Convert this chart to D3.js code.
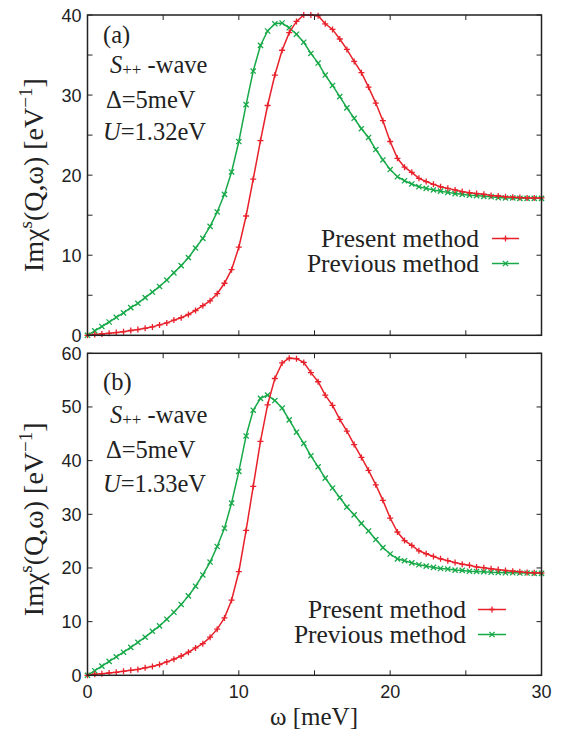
<!DOCTYPE html>
<html>
<head>
<meta charset="utf-8">
<script src="https://cdn.jsdelivr.net/npm/d3@7/dist/d3.min.js"></script>
<style>
  body { margin: 0; background: #fff; }
  svg { display: block; }
</style>
</head>
<body>
<div id="chart"></div>
<script>
// omega grid [meV]
const omega = [0, 0.48, 0.95, 1.43, 1.9, 2.38, 2.86, 3.33, 3.81, 4.29,
  4.76, 5.24, 5.71, 6.19, 6.67, 7.14, 7.62, 8.1, 8.57, 9.05,
  9.52, 10, 10.48, 10.95, 11.43, 11.9, 12.38, 12.86, 13.33, 13.81,
  14.29, 14.76, 15.24, 15.71, 16.19, 16.67, 17.14, 17.62, 18.1, 18.57,
  19.05, 19.52, 20, 20.48, 20.95, 21.43, 21.9, 22.38, 22.86, 23.33,
  23.81, 24.29, 24.76, 25.24, 25.71, 26.19, 26.67, 27.14, 27.62, 28.1,
  28.57, 29.05, 29.52, 30];

// panel (a), U=1.32eV
const presentA = [0, 0.1, 0.16, 0.25, 0.34, 0.45, 0.6, 0.72, 0.87, 1.05,
  1.3, 1.55, 1.9, 2.2, 2.6, 3.1, 3.7, 4.3, 5.2, 6.5,
  8.2, 11.0, 14.9, 19.5, 24.3, 28.7, 32.5, 35.6, 37.8, 39.2,
  40.0, 40.0, 39.9, 38.9, 38.2, 37.0, 35.7, 34.2, 32.8, 31.0,
  29.0, 26.8, 24.2, 22.1, 21.0, 20.35, 19.6, 19.2, 18.85, 18.55,
  18.35, 18.15, 17.95, 17.8, 17.7, 17.6, 17.45, 17.4, 17.3, 17.25,
  17.2, 17.15, 17.15, 17.15];
const previousA = [0, 0.55, 1.1, 1.66, 2.25, 2.8, 3.45, 4.0, 4.7, 5.4,
  6.1, 6.9, 7.8, 8.7, 9.7, 10.9, 12.1, 13.6, 15.4, 17.6,
  20.4, 24.2, 28.8, 33.0, 36.2, 38.0, 38.9, 39.0, 38.4, 37.6,
  36.6, 35.2, 34.0, 32.5, 31.2, 29.8, 28.4, 27.1, 25.8, 24.7,
  23.2, 21.9, 20.7, 19.8, 19.3, 18.9, 18.55, 18.35, 18.15, 18.0,
  17.85, 17.7, 17.6, 17.5, 17.45, 17.35, 17.3, 17.2, 17.15, 17.15,
  17.1, 17.1, 17.1, 17.1];

// panel (b), U=1.33eV
const presentB = [0, 0.2, 0.3, 0.45, 0.55, 0.75, 0.93, 1.1, 1.4, 1.65,
  2.0, 2.5, 3.0, 3.6, 4.3, 5.1, 5.9, 7.1, 8.6, 10.7,
  14.0, 19.3, 27.0, 35.2, 43.6, 50.4, 55.3, 58.2, 59.1, 59.0,
  58.3, 56.4, 54.7, 52.2, 50.3, 47.7, 45.5, 43.0, 40.6, 38.2,
  35.5, 32.6, 29.3, 26.7, 25.1, 24.2, 23.2, 22.65, 22.15, 21.7,
  21.35, 21.0, 20.7, 20.5, 20.2, 20.05, 19.85, 19.7, 19.55, 19.4,
  19.3, 19.15, 19.1, 19.05];
const previousB = [0, 0.85, 1.7, 2.6, 3.45, 4.3, 5.2, 6.15, 7.1, 8.2,
  9.2, 10.45, 11.75, 13.2, 14.8, 16.6, 18.7, 21.1, 24.0, 27.4,
  32.1, 38.0, 44.6, 49.4, 51.6, 52.2, 51.2, 49.8, 47.6, 45.3,
  43.2, 40.9, 38.85, 36.75, 34.9, 33.1, 31.35, 29.9, 28.3, 26.9,
  25.3, 23.8, 22.6, 21.7, 21.35, 20.95, 20.6, 20.35, 20.1, 19.9,
  19.8, 19.6, 19.55, 19.4, 19.35, 19.3, 19.2, 19.15, 19.1, 19.1,
  19.05, 19.05, 19.0, 19.0];

const seriesNames = ["Present method", "Previous method"];
const xTicks = [0, 5, 10, 15, 20, 25, 30];
const xTickLabels = [0, 10, 20, 30];

const RED = "#e8202a";
const GREEN = "#17a948";
const SERIF = "'Liberation Serif', 'Times New Roman', serif";
const SANS = "'Liberation Sans', Arial, sans-serif";

const width = 562, height = 732;
const svg = d3.select("#chart").append("svg")
  .attr("width", width)
  .attr("height", height);

const x = d3.scaleLinear().domain([0, 30]).range([87.5, 541.5]);

const panels = [
  {id: "a", top: 15, bottom: 335.3, ymax: 40, yTicks: d3.range(0, 41, 5), yLabels: [0, 10, 20, 30, 40],
   present: presentA, previous: previousA, U: "1.32eV",
   textY: [42.5, 73, 107.5, 139.5], legendRight: 479, legendY: 238.5, lineX: [492, 519]},
  {id: "b", top: 353.3, bottom: 675.3, ymax: 60, yTicks: [0, 10, 20, 30, 40, 50, 60], yLabels: [0, 10, 20, 30, 40, 50, 60],
   present: presentB, previous: previousB, U: "1.33eV",
   textY: [390, 423, 458, 492], legendRight: 466, legendY: 609.5, lineX: [478, 506]}
];

function plus(g, px, py, s) {
  g.append("path").attr("d", `M${px - s},${py}H${px + s}M${px},${py - s}V${py + s}`);
}
function cross(g, px, py, s) {
  g.append("path").attr("d", `M${px - s},${py - s}L${px + s},${py + s}M${px - s},${py + s}L${px + s},${py - s}`);
}

panels.forEach(p => {
  const y = d3.scaleLinear().domain([0, p.ymax]).range([p.bottom, p.top]);
  const g = svg.append("g").attr("id", "panel_" + p.id);

  // tick marks on all four sides, pointing in
  const ticks = g.append("g").attr("stroke", "#222").attr("stroke-width", 1);
  xTicks.forEach(t => {
    ticks.append("line").attr("x1", x(t)).attr("x2", x(t)).attr("y1", p.bottom).attr("y2", p.bottom - 5);
    ticks.append("line").attr("x1", x(t)).attr("x2", x(t)).attr("y1", p.top).attr("y2", p.top + 5);
  });
  p.yTicks.forEach(t => {
    ticks.append("line").attr("x1", x(0)).attr("x2", x(0) + 5).attr("y1", y(t)).attr("y2", y(t));
    ticks.append("line").attr("x1", x(30)).attr("x2", x(30) - 5).attr("y1", y(t)).attr("y2", y(t));
  });

  // y tick labels
  g.append("g").selectAll("text").data(p.yLabels).join("text")
    .attr("x", x(0) - 6)
    .attr("y", d => y(d) + 6.5)
    .attr("text-anchor", "end")
    .style("font-family", SANS)
    .style("font-size", "18px")
    .attr("fill", "#222")
    .text(d => d);

  // curves
  const line = d3.line().x(d => x(d[0])).y(d => y(d[1]));
  const sets = [
    {vals: p.present, color: RED, marker: plus},
    {vals: p.previous, color: GREEN, marker: cross}
  ];
  sets.slice().reverse().forEach(s => {
    const pts = omega.map((w, i) => [w, s.vals[i]]);
    g.append("path")
      .attr("d", line(pts))
      .attr("fill", "none")
      .attr("stroke", s.color)
      .attr("stroke-width", 1.5);
    const mg = g.append("g").attr("stroke", s.color).attr("stroke-width", 1.3).attr("fill", "none");
    pts.forEach(d => s.marker(mg, x(d[0]), y(d[1]), s.marker === plus ? 3 : 2.6));
  });

  // frame
  g.append("rect")
    .attr("x", x(0)).attr("y", p.top)
    .attr("width", x(30) - x(0)).attr("height", p.bottom - p.top)
    .attr("fill", "none").attr("stroke", "#222").attr("stroke-width", 1.5);

  // annotations
  const ann = g.append("g").style("font-family", SERIF).style("font-size", "24.5px").attr("fill", "#222");
  ann.append("text").attr("x", 103).attr("y", p.textY[0]).text("(" + p.id + ")");
  const sw = ann.append("text").attr("x", 110).attr("y", p.textY[1]);
  sw.append("tspan").style("font-style", "italic").text("S");
  sw.append("tspan").style("font-size", "17px").attr("dy", 2).text("++");
  sw.append("tspan").attr("dy", -2).text(" -wave");
  ann.append("text").attr("x", 106).attr("y", p.textY[2]).text("Δ=5meV");
  const ut = ann.append("text").attr("x", 103).attr("y", p.textY[3]);
  ut.append("tspan").style("font-style", "italic").text("U");
  ut.append("tspan").text("=" + p.U);

  // legend
  const leg = g.append("g");
  sets.forEach((s, i) => {
    const ly = p.legendY + i * 25;
    leg.append("text")
      .attr("x", p.legendRight).attr("y", ly + 8)
      .attr("text-anchor", "end")
      .style("font-family", SERIF).style("font-size", "25.5px")
      .attr("fill", "#222")
      .text(seriesNames[i]);
    leg.append("line")
      .attr("x1", p.lineX[0]).attr("x2", p.lineX[1]).attr("y1", ly).attr("y2", ly)
      .attr("stroke", s.color).attr("stroke-width", 1.5);
    const mg = leg.append("g").attr("stroke", s.color).attr("stroke-width", 1.3);
    s.marker(mg, (p.lineX[0] + p.lineX[1]) / 2, ly, s.marker === plus ? 3 : 2.6);
  });

  // y axis label
  const yl = g.append("text")
    .attr("transform", `translate(43,${(p.top + p.bottom) / 2 + (p.id === "b" ? 5 : 0)}) rotate(-90)`)
    .attr("text-anchor", "middle")
    .style("font-family", SERIF).style("font-size", "28px")
    .attr("fill", "#222");
  yl.append("tspan").text("Imχ");
  yl.append("tspan").style("font-size", "19px").attr("dy", -11).text("s");
  yl.append("tspan").attr("dy", 11).text("(Q,ω) [eV");
  yl.append("tspan").style("font-size", "19px").attr("dy", -11).text("−1");
  yl.append("tspan").attr("dy", 11).text("]");
});

// x tick labels + axis label (bottom panel only)
const bottomY = panels[1].bottom;
svg.append("g").selectAll("text").data(xTickLabels).join("text")
  .attr("x", d => x(d))
  .attr("y", bottomY + 23)
  .attr("text-anchor", "middle")
  .style("font-family", SANS)
  .style("font-size", "18px")
  .attr("fill", "#222")
  .text(d => d);

svg.append("text")
  .attr("x", 314).attr("y", 725)
  .attr("text-anchor", "middle")
  .style("font-family", SERIF).style("font-size", "25px")
  .attr("fill", "#222")
  .text("ω [meV]");
</script>
</body>
</html>
